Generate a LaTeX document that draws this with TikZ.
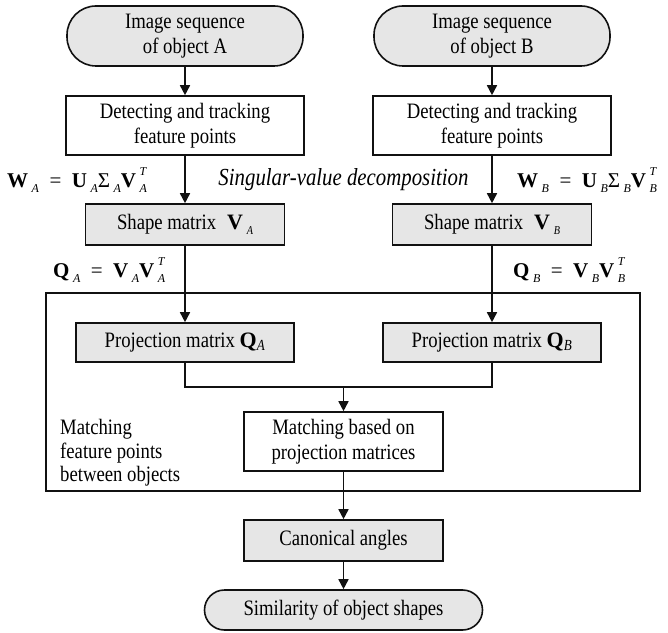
\documentclass[tikz,border=0pt]{standalone}
\usepackage{fontspec}
\setmainfont{Liberation Serif}[FakeStretch=0.85]
\newfontfamily\eqfam{Liberation Serif}
\usetikzlibrary{arrows.meta,positioning,calc}
\definecolor{ink}{HTML}{111111}
\definecolor{shade}{HTML}{E6E6E6}
% italic lower index, and lower index with upper index stacked over it
\newcommand\sbs[1]{\,\raisebox{-0.55ex}{\fontsize{12}{12}\selectfont\itshape #1}}
\newcommand\sbsp[2]{\rlap{\,\raisebox{-0.55ex}{\fontsize{12}{12}\selectfont\itshape #1}}%
  \,\raisebox{1.25ex}{\fontsize{12}{12}\selectfont\itshape #2}}
\newcommand\eqfont{\eqfam\fontsize{21}{24}\selectfont}
\newcommand\eqsign{\enspace=\enspace}

\begin{document}
\begin{tikzpicture}[x=1pt,y=1pt,font=\fontsize{22}{25}\selectfont,
  box/.style={draw=ink,line width=1.6pt,inner sep=0pt,align=center},
  stepbox/.style={box,minimum width=238pt,minimum height=59pt},
  greybox/.style={box,fill=shade,minimum width=199pt},
  term/.style={box,fill=shade,rounded corners=29pt},
  flow/.style={draw=ink,line width=1.6pt,-{Triangle[length=10pt,width=10pt]}}]
  \useasboundingbox (0,0) rectangle (668,632);

  % two input columns
  \node[term,minimum width=236pt,minimum height=60pt] (termA) at (185,596) {Image sequence\\of object A};
  \node[term,minimum width=236pt,minimum height=60pt] (termB) at (492,596) {Image sequence\\of object B};
  \node[stepbox] (detA) at (185,506.5) {Detecting and tracking\\feature points};
  \node[stepbox] (detB) at (492,506.5) {Detecting and tracking\\feature points};
  \node[greybox,minimum height=41pt] (shapeA) at (185,407.5) {Shape matrix\enspace{\eqfam\textbf{V}}\sbs{A}};
  \node[greybox,minimum height=41pt] (shapeB) at (492,407.5) {Shape matrix\enspace{\eqfam\textbf{V}}\sbs{B}};

  % equations beside the arrows
  \node[anchor=west,inner sep=0pt,font=\eqfont] (eqWA) at (7,452)
    {\textbf{W}\sbs{A}\eqsign\textbf{U}\sbs{A}Σ\sbs{A}\textbf{V}\sbsp{A}{T}};
  \node[anchor=west,inner sep=0pt,font=\eqfont] (eqWB) at (517,452)
    {\textbf{W}\sbs{B}\eqsign\textbf{U}\sbs{B}Σ\sbs{B}\textbf{V}\sbsp{B}{T}};
  \node[inner sep=0pt,font=\fontsize{24.5}{26}\selectfont\itshape] (svd) at (343.5,452) {Singular-value decomposition};
  \node[anchor=west,inner sep=0pt,font=\eqfont] (eqQA) at (53,362)
    {\textbf{Q}\sbs{A}\eqsign\textbf{V}\sbs{A}\textbf{V}\sbsp{A}{T}};
  \node[anchor=west,inner sep=0pt,font=\eqfont] (eqQB) at (513,362)
    {\textbf{Q}\sbs{B}\eqsign\textbf{V}\sbs{B}\textbf{V}\sbsp{B}{T}};

  % matching stage
  \node[draw=ink,line width=2.5pt,minimum width=594pt,minimum height=198pt,inner sep=0pt] (frame) at (343,240) {};
  \node[greybox,minimum width=218pt,minimum height=39pt] (projA) at (185,289.5) {Projection matrix {\eqfam\textbf{Q}}\textsubscript{\itshape A}};
  \node[greybox,minimum width=218pt,minimum height=39pt] (projB) at (492,289.5) {Projection matrix {\eqfam\textbf{Q}}\textsubscript{\itshape B}};
  \coordinate (joint) at (343.5,245);
  \node[box,minimum width=199pt,minimum height=59pt] (match) at (343.5,190.5) {Matching based on\\projection matrices};
  \node[anchor=west,inner sep=0pt,align=left,font=\fontsize{22}{23.5}\selectfont] (matchlbl) at (60,179) {Matching\\feature points\\between objects};

  % output
  \node[greybox,minimum height=41pt] (canon) at (343.5,91.5) {Canonical angles};
  \node[term,minimum width=278pt,minimum height=40pt,rounded corners=20pt] (termS) at (343.5,22) {Similarity of object shapes};

  \draw[flow] (termA) -- (detA);
  \draw[flow] (termB) -- (detB);
  \draw[flow] (detA) -- (shapeA);
  \draw[flow] (detB) -- (shapeB);
  \draw[flow] (shapeA) -- (projA);
  \draw[flow] (shapeB) -- (projB);
  \draw[draw=ink,line width=1.6pt] (projA.south) |- (joint) -| (projB.south);
  \draw[flow] (joint) -- (match);
  \draw[flow] (match) -- (canon);
  \draw[flow] (canon) -- (termS);
\end{tikzpicture}
\end{document}
